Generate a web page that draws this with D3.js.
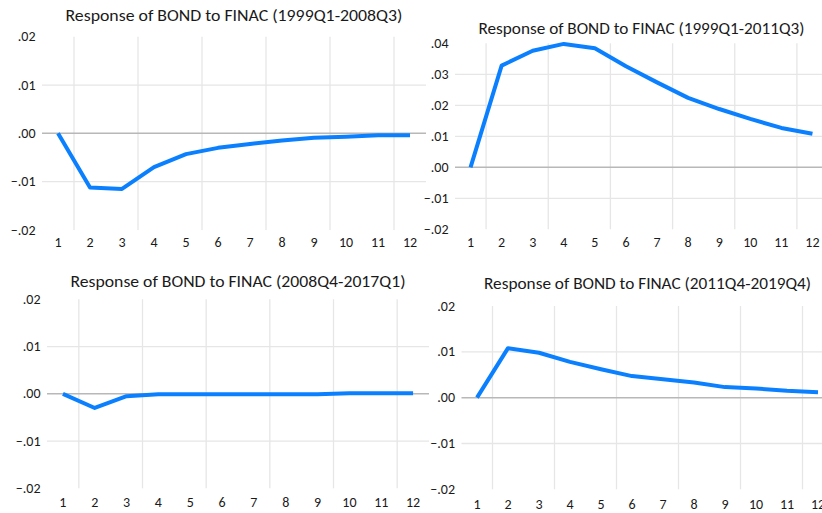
<!DOCTYPE html>
<html>
<head>
<meta charset="utf-8">
<script src="https://cdn.jsdelivr.net/npm/d3@7"></script>
<style>
  html, body { margin: 0; padding: 0; background: #ffffff; }
  svg { display: block; }
  text { font-family: Carlito, Lato, "Noto Sans", sans-serif; fill: #1a1a1a; }
</style>
</head>
<body>
<svg id="chart" width="822" height="513"></svg>
<script>
// ---------- data ----------
const periods = [1, 2, 3, 4, 5, 6, 7, 8, 9, 10, 11, 12];
const titles = [
  "Response of BOND to FINAC (1999Q1-2008Q3)",
  "Response of BOND to FINAC (1999Q1-2011Q3)",
  "Response of BOND to FINAC (2008Q4-2017Q1)",
  "Response of BOND to FINAC (2011Q4-2019Q4)"
];
const resp1999_2008 = [0.0000, -0.0112, -0.0115, -0.0070, -0.0043, -0.0030, -0.0022, -0.0015, -0.0009, -0.0007, -0.0004, -0.0004];
const resp1999_2011 = [0.0000, 0.0328, 0.0376, 0.0398, 0.0384, 0.0326, 0.0274, 0.0224, 0.0188, 0.0156, 0.0127, 0.0108];
const resp2008_2017 = [0.0000, -0.0030, -0.0005, -0.0001, -0.0001, -0.0001, -0.0001, -0.0001, -0.0001, 0.0001, 0.0001, 0.0001];
const resp2011_2019 = [0.0000, 0.0108, 0.0098, 0.0078, 0.0062, 0.0047, 0.0040, 0.0033, 0.0023, 0.0020, 0.0015, 0.0012];
const yTicksA = [-0.02, -0.01, 0.00, 0.01, 0.02];
const yTicksB = [-0.02, -0.01, 0.00, 0.01, 0.02, 0.03, 0.04];

// ---------- layout (positions / sizes only) ----------
const layout = [
  { left: 42,  right: 426, top: 36.7,  bottom: 230,   titleY: 15,  titleW: 337, xLabY: 242.5, ticks: yTicksA, values: resp1999_2008, title: titles[0] },
  { left: 455, right: 828, top: 43.3,  bottom: 229.3, titleY: 28,  titleW: 326, xLabY: 242.5, ticks: yTicksB, values: resp1999_2011, title: titles[1] },
  { left: 47,  right: 429, top: 299.3, bottom: 488.3, titleY: 281, titleW: 335, xLabY: 502.5, ticks: yTicksA, values: resp2008_2017, title: titles[2] },
  { left: 461.5, right: 833.5, top: 306, bottom: 489.3, titleY: 282.5, titleW: 327, xLabY: 504, ticks: yTicksA, values: resp2011_2019, title: titles[3] }
];

const svg = d3.select("#chart");
const fmt = v => {
  const s = d3.format(".2f")(Math.abs(v) < 1e-9 ? 0 : v);
  return s.replace("0.", ".");
};
const lineColor = "#0b80ff";

layout.forEach(p => {
  const g = svg.append("g");
  const x = d3.scaleBand().domain(periods).range([p.left, p.right]).paddingInner(0).paddingOuter(0);
  const y = d3.scaleLinear().domain(d3.extent(p.ticks)).range([p.bottom, p.top]);
  const cx = d => x(d) + x.bandwidth() / 2;

  // vertical gridlines at every second category boundary
  const vg = periods.filter(d => d % 2 === 0);
  g.selectAll(".vg").data(vg).enter().append("line")
    .attr("x1", d => x(d)).attr("x2", d => x(d))
    .attr("y1", p.top).attr("y2", p.bottom)
    .attr("stroke", "#e6e6e6").attr("stroke-width", 1.3);

  // horizontal gridlines (interior ticks)
  const interior = p.ticks.filter(t => t !== d3.min(p.ticks) && t !== d3.max(p.ticks));
  g.selectAll(".hg").data(interior).enter().append("line")
    .attr("x1", p.left).attr("x2", p.right)
    .attr("y1", d => y(d)).attr("y2", d => y(d))
    .attr("stroke", d => Math.abs(d) < 1e-9 ? "#b8b8b8" : "#e6e6e6")
    .attr("stroke-width", d => Math.abs(d) < 1e-9 ? 1.5 : 1.3);

  // y tick labels
  g.selectAll(".yl").data(p.ticks).enter().append("text")
    .attr("x", p.left - 6.5).attr("y", d => y(d))
    .attr("text-anchor", "end").attr("dominant-baseline", "central")
    .attr("font-size", 14)
    .text(fmt);

  // x tick labels
  g.selectAll(".xl").data(periods).enter().append("text")
    .attr("x", cx).attr("y", p.xLabY)
    .attr("text-anchor", "middle").attr("dominant-baseline", "central")
    .attr("font-size", 14)
    .text(d => d);

  // title
  g.append("text")
    .attr("x", (p.left + p.right) / 2).attr("y", p.titleY)
    .attr("text-anchor", "middle").attr("dominant-baseline", "central")
    .attr("font-size", 16.5)
    .attr("textLength", p.titleW).attr("lengthAdjust", "spacingAndGlyphs")
    .text(p.title);

  // response line
  const line = d3.line().x((d, i) => cx(periods[i])).y(d => y(d));
  g.append("path").datum(p.values)
    .attr("d", line)
    .attr("fill", "none")
    .attr("stroke", lineColor)
    .attr("stroke-width", 4)
    .attr("stroke-linejoin", "round");
});
</script>
</body>
</html>
